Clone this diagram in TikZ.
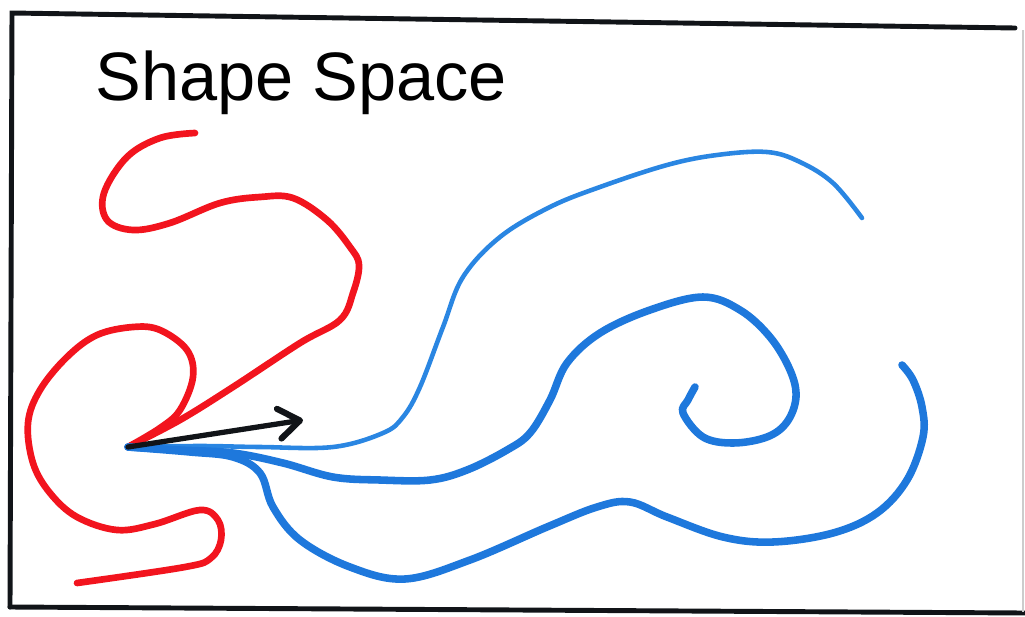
\documentclass[tikz,border=0pt]{standalone}
\usepackage{fontspec}
\setmainfont{Liberation Sans}
\usetikzlibrary{arrows.meta}
\definecolor{marker-red}{HTML}{F2141E}
\definecolor{marker-blue}{HTML}{1E78DC}
\definecolor{marker-lightblue}{HTML}{2A86E2}
\definecolor{marker-black}{HTML}{111418}

\begin{document}
\begin{tikzpicture}[x=0.02cm, y=-0.02cm,
      frameline/.style={draw=marker-black, line width=2.8pt, line cap=round},
      redstroke/.style={draw=marker-red, line width=3.8pt, line cap=round, line join=round},
      bluestroke/.style={draw=marker-blue, line width=4.3pt, line cap=round, line join=round},
      thinblue/.style={draw=marker-lightblue, line width=2.6pt, line cap=round}]
    \useasboundingbox (0,0) rectangle (1025,616);
    \coordinate (TL) at (12,13);
    \coordinate (TR) at (1015,28);
    \coordinate (BL) at (10,607);
    \coordinate (BR) at (1025,613);
    \draw[frameline] (BL) -- (TL) -- (TR);
    \draw[frameline] (BL) -- (BR);
    \draw[draw=gray!40, line width=0.8pt] (1023,30) -- (1023,612);
    \node[anchor=base west, inner sep=0pt, font=\fontsize{39}{42}\selectfont]
          (title) at (95,100) {Shape Space};
    \coordinate (apex) at (128,447);
    \coordinate (tip) at (303,420);
    \draw[redstroke] plot[smooth, tension=0.6] coordinates {
        (195,133) (160,138) (127,157) (104,193) (107,220) (133,230) (170,223)
        (220,203) (260,197) (293,198) (327,220) (350,247) (359,265) (353,293)
        (340,320) (300,343) (233,387) (180,420) (apex)};
    \draw[redstroke] plot[smooth, tension=0.6] coordinates {
        (apex) (160,428) (180,410) (193,377) (187,350) (160,330) (133,327)
        (97,335) (67,357) (40,390) (28,423) (33,463) (50,493) (77,517)
        (117,530) (155,524) (200,510) (218,520) (221,540) (211,558) (185,567)
        (77,583)};
    \draw[thinblue] plot[smooth, tension=0.6] coordinates {
        (apex) (200,446) (260,447) (333,447) (383,433) (403,417) (420,387)
        (443,327) (463,277) (500,237) (550,207) (600,187) (667,165) (717,155)
        (767,152) (800,162) (833,183) (862,218)};
    \draw[bluestroke] plot[smooth, tension=0.6] coordinates {
        (apex) (180,450) (233,453) (283,463) (333,477) (380,480) (430,480)
        (467,470) (507,450) (530,433) (550,400) (567,363) (600,333) (650,310)
        (703,297) (740,310) (770,337) (790,370) (796,397) (787,422) (767,437)
        (733,443) (703,437) (683,413) (688,400) (695,387)};
    \draw[bluestroke] plot[smooth, tension=0.6] coordinates {
        (apex) (190,452) (233,457) (260,473) (273,507) (300,540) (350,567)
        (405,579) (470,560) (547,527) (597,507) (630,502) (667,517)
        (723,537) (773,542) (833,533) (877,513) (907,480) (923,437) (922,407)
        (913,380) (902,365)};
    \draw[draw=marker-black, line width=3pt, line cap=round,
          -{Straight Barb[length=0.42cm, width=0.6cm, line width=3.5pt, line cap=round, line join=round]}]
          (apex) -- (tip);
\end{tikzpicture}
\end{document}
